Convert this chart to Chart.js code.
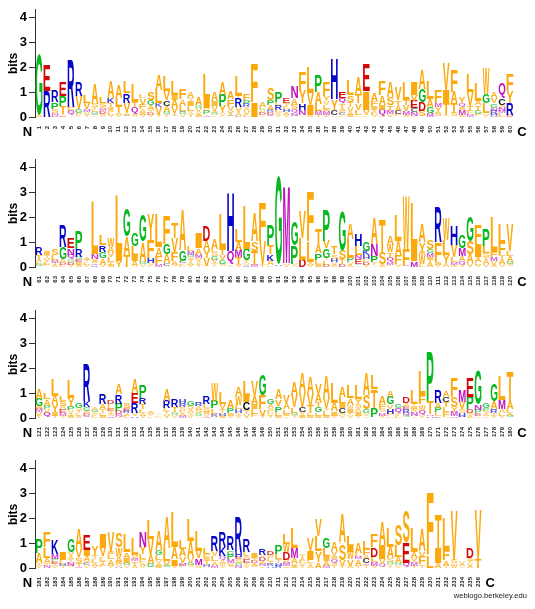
<!DOCTYPE html>
<html>
<head>
<meta charset="utf-8">
<title>Sequence logo</title>
<script src="https://cdn.jsdelivr.net/npm/chart.js@4"></script>
<style>
  html, body { margin: 0; padding: 0; background: #fff; }
  canvas { position: absolute; left: 0; }
  #credit { position: absolute; right: 8px; top: 591px; font: 7.6px "Liberation Sans", sans-serif; color: #222; }
</style>
</head>
<body>
<canvas id="row1" width="535" height="150" style="top:0"></canvas>
<canvas id="row2" width="535" height="150" style="top:150px"></canvas>
<canvas id="row3" width="535" height="150" style="top:301px"></canvas>
<canvas id="row4" width="535" height="150" style="top:451px"></canvas>
<div id="credit">weblogo.berkeley.edu</div>
<script>
// each stack reads bottom to top: letter + height in bits
const yTicks = [0, 1, 2, 3, 4];

const row1Labels = [1,2,3,4,5,6,7,8,9,10,11,12,13,14,15,16,17,18,19,20,21,22,23,24,25,26,27,28,29,30,31,32,33,34,35,36,37,38,39,40,41,42,43,44,45,46,47,48,49,50,51,52,53,54,55,56,57,58,59,60];
const row1Stacks = [
  'A.1 G2.45','R1.05 E1.05','D.06 N.08 S.18 P.28 R.45','D.08 S.05 T.3 P.42 E.55','Y.07 Q.17 F.15 R1.9','Y.05 F.1 G.17 V.53 R.55','Y.1 V.12 M.1 V.26 L.32','V.06 C.05 G.1 L.08 T.1 S.15 A.85','V.05 A.08 D.1 M.08 T.08 S.18 L.25','V.1 L.1 A.1 I.1 T.15 K.2 A.65',
  'V.1 A.1 T.25 L.32 A.5','C.05 A.15 V.38 R.37 L.47','V.05 A.1 Q.25 T.2 L.7','V.1 I.1 A.1 F.2 V.25 L.15','V.1 D.08 T.1 A.2 G.22 S.33','T.1 V.3 K.15 L.55 A.6','T.1 G.1 A.25 C.23 V.37 L.6','G.05 T.1 V.25 A.3 I.2 L.55','V.1 G.1 C.05 L.2 A.25 F.4','Y.15 V.1 L.2 I.2 T.1 A.25',
  'I.1 Y.1 V.15 G.12 A.33','M.05 T.05 P.15 V.1 I.4 L.95','L.08 G.08 A.1 V.2 I.2 A.35','L.05 V.1 Y.3 P.45 A.5','C.05 Y.2 V.2 F.28 A.33','D.05 A.15 V.2 R.38 T.08 L.8','L.1 V.15 A.15 R.13 P.15 F.25','I.6 F1.55','T.08 D.1 V.1 G.06 L.08 A.2','Q.1 D.1 R.08 A.2 P.2 S.45',
  'V.1 T.1 L.1 R.2 L.1 P.43','V.1 A.1 H.12 L.1 T.13 E.2','G.05 N.1 Q.15 S.2 A.25 N.45','V.08 N.22 H.25 Y.5 F.77','A.1 I.4 V.45 L1.05','Y.1 M.13 L.3 A.45 P.65','V.1 M.14 I.1 L.15 V.15 Y.2 F.55','A.08 C.2 Y.43 H1.6','L.08 C.1 V.08 A.12 T.17 Q.22 E.27','I.1 A.12 V.18 T.2 S.27 L.6',
  'V.08 L.22 V.25 T.35 A.75','A.08 V.22 I.75 E1.1','V.1 L.08 A.1 I.15 F.22 A.3','I.05 Q.25 I.2 A.38 F.57','V.12 M.14 T.22 S.32 A.6','F.1 C.15 A.2 T.22 V.5','A.1 M.15 V.25 T.2 L.7','T.05 N.15 C.15 E.28 V.27 I.5','S.26 D.35 G.5 A.8','A.02 M.14 G.25 A.32 L.7',
  'S.2 Y.2 M.15 F.5','S.07 T.46 I.55 V1.1','S.15 T.4 A.45 F.9','A.1 M.2 I.1 Q.15 Y.25','M.1 F.14 T.2 V.56 L.72','F.1 G.15 T.22 A.18 L.7','V.1 A.05 L.42 G.35 W1.05','M.05 H.08 R.13 N.12 G.17 V.22 A.25','L.15 M.1 N.15 S.1 C.25 Q.6','D.1 R.47 Y.47 F.65'
];

const row2Labels = [61,62,63,64,65,66,67,68,69,70,71,72,73,74,75,76,77,78,79,80,81,82,83,84,85,86,87,88,89,90,91,92,93,94,95,96,97,98,99,100,101,102,103,104,105,106,107,108,109,110,111,112,113,114,115,116,117,118,119,120];
const row2Stacks = [
  'G.1 L.1 A.1 T.18 R.3','F.1 L.12 V.15 T.1 I.15','A.1 T.08 M.1 L.2 S.25','L.1 D.08 A.15 G.47 R.88','V.1 D.12 G.08 Q.2 N.25 E.42','A.1 I.1 E.12 G.1 R.3 P.75','V.1 L.1 T.1 A.12','R.08 Q.07 I.08 V.1 N.2 L2.12','V.1 A.25 G.25 R.27 L.42','I.1 T.1 L.2 V.2 A.2 W.35',
  'Y.25 I.35 L2.27','T.5 A.75 G1.1','V.05 A.2 I.25 L.35 G.5','V.1 G.12 A.8 G1.08','L.05 V.1 H.2 F.75 Y1.05','M.12 F.3 A.38 L1.35','V.05 C.1 A.35 G.43 F1.15','S.1 A.15 F.35 V.55 T.6','L.1 T.05 C.1 G.42 A1.6','V.1 A.1 T.1 S.1 G.1 M.15 L.2',
  'T.1 Y.1 V.15 M.15 A.25 I.6','S.05 V.3 Y.32 A.38 D.6','A.05 T.1 V.15 G.15 S.15 L.12 A.4','S.1 G.17 V.2 T.25 L1.4','T.05 W.05 Q.55 H2.35','V.1 T.3 M.3 A.3 L.5','R.05 V.1 T.12 G.45 L1.75','M.1 T.55 S.38 A1.12','T.12 V.9 F1.55','L.08 A.18 K.25 T.35 P.85',
  'A.03 H.07 G3.55','V.1 A.05 M3.1','A.05 V.08 P.73 G.93','D.3 L.85 V1.1','V.1 A.1 L.8 F2','I.12 L.17 P.27 A.3 T.65','D.1 L.17 T.1 G.38 V.3 P1.25','A.1 V.1 H.14 S.18 T.3','D.12 T.2 S.35 G1.6','A.1 V.1 P.18 L.75 A.6',
  'Y.08 G.05 E.18 N.17 L.37 H.45','V.1 D.1 L.12 H.15 K.18 G.35','V.08 T.1 P.27 N.48 A1.05','A.12 S.45 T1.35','F.08 M.12 Q.17 T.22 W.3 A.35','V.1 F.35 A.6 L1.05','Q.05 F.65 W2.15','M.25 I.6 L1.75','L.12 W.4 I.1 Y.38 A.75','A.2 T.1 I.12 M.15 G.15 S.35',
  'V.1 I.1 F.8 R1.4','A.15 Y.32 L.6 W.85','A.1 M.1 L.2 V.5 H.8','V.1 Q.15 A.2 M.3 G.5','V.15 A.35 S.55 G1','V.1 L.1 A.2 I.5 F.8','V.12 A.18 T.1 S.15 L.3 P.65','A.1 V.15 M.15 F.22 L1.4','V.12 A.2 T.15 F.5 L.75','S.1 G.1 A.25 L.2 V1.1'
];

const row3Labels = [121,122,123,124,125,126,127,128,129,130,131,132,133,134,135,136,137,138,139,140,141,142,143,144,145,146,147,148,149,150,151,152,153,154,155,156,157,158,159,160,161,162,163,164,165,166,167,168,169,170,171,172,173,174,175,176,177,178,179,180];
const row3Stacks = [
  'Y.1 V.15 M.13 I.1 G.3 A.4','Q.22 V.15 P.13 A.25 L.25','T.1 I.15 Y.3 A.35 L.65','V.1 M.1 E.15 A.15 S.2 L.22','I.1 T.1 V.12 P.17 Y.3 L.7','A.1 L.1 T.1 V.1 G.23','Q.1 D.1 A.1 G.15 K.25 R1.5','L.1 V.08 T.08 G.08 A.1','I.1 L.1 T.15 A.2 R.4','M.08 S.1 T.1 E.1 L.18 D.17',
  'T.05 N.1 D.13 P.3 R.37 A.42','L.1 A.1 R.1 E.1 S.22','H.08 V.13 R.4 E.4 A.58','V.1 A.1 L.15 T.2 R.25 P.5','L.08 V.08 A.1 T.07','A.06 L.06 V.06','V.15 T.12 L.13 R.3 A.45','V.1 G.1 L.05 T.2 R.3','M.1 A.1 L.1 S.15 R.15 H.17','V.1 T.1 A.15 S.15 G.2',
  'V.08 G.1 S.15 A.15 R.17','M.05 V.1 I.1 S.15 L.15 R.3','V.05 R.08 Q.05 L.2 P.32 W.7','I.1 H.1 T.15 V.22 L.45','V.1 I.1 P.2 A.3','V.1 Y.12 H.13 L.18 W.36 A.38','V.17 T.15 C.31 I.27 L.6','F.15 L.2 I.2 A.32 V.63','Y.1 V.27 F.55 G.85','Y.1 V.1 L.1 S.1 A.17 G.2',
  'I.1 L.15 P.23 V.27 A.4','T.08 I.1 L.17 A.25 V.3','T.1 G.12 L.22 V.5 A.5','I.12 V.13 C.2 V.6 A.8','I.1 L.1 T.3 V.45 A.65','I.1 L.12 G.23 T.2 A.33 V.4','I.1 L.2 T.1 V.42 A.9','V.1 I.17 A.35 L.8','V.1 S.1 C.2 I.2 L.25 A.42','V.12 T.1 I.15 W.15 A.28 L.5',
  'V.1 I.15 A.15 S.15 Y.2 L.55','T.07 V.12 G.15 S.6 A.87','P.4 T.75 L.57','V.1 M.12 S.13 F.2 A.3','L.08 F.1 H.2 V.17 G.3 A.25','L.1 T.1 Q.2 G.15','G.1 Q.1 R.15 E.1 A.15 D.25','A.08 N.15 W.15 I.1 T.1 L.55','V.12 Q.17 W.2 I.05 F.38 L1','H.08 N.07 T.5 P2',
  'E.07 L.15 P.2 A.2 R.5','V.05 F.18 L.2 T.22 C.2 A.25','N.07 M.18 Y.18 S.4 F.8','Q.05 H.15 S.15 V.3 M.45','A.1 S.1 D.15 P.5 E.78','A.08 E.1 P.15 N.22 G1.35','T.08 A.1 S.12 P.1 G.2','V.1 T.1 R.15 A.33 G.7','V.1 L.1 A.15 M.37 L.98','G.1 A.1 L.17 A.3 T1.2'
];

const row4Labels = [181,182,183,184,185,186,187,188,189,190,191,192,193,194,195,196,197,198,199,200,201,202,203,204,205,206,207,208,209,210,211,212,213,214,215,216,217,218,219,220,221,222,223,224,225,226,227,228,229,230,231,232,233,234,235,236,'','','',''];
const row4Stacks = [
  'V.1 T.1 A.4 P.55','N.1 T.12 A.2 L.4 F.6','V.1 T.08 E.1 P.1 M.2 K.55','T.1 H.08 L.15 I.3','S.1 N.15 T.1 A.12 V.15 G.5','M.05 T.15 S.2 A.05 V.3 A.85','V.1 C.08 T.1 A.2 I.25 E.6','V.1 A.1 L.17 T.15 Y.38','F.12 T.15 L.15 A.05 V.35 I.55','T.1 A.25 L.2 I.1 V.8',
  'H.05 V.1 I.1 A.2 W.37 S.6','V.1 G.12 I.2 A.23 L.7','A.1 T.17 M.1 V.15 L.65','V.1 A.1 F.15 L.2 Y.28 N.6','G.17 A.35 V.65 L.75','I.1 A.1 V.12 L.2 G.2 A.78','G.1 V.2 L.5 A1.25','V.1 I.28 A.45 L1.4','F.1 M.12 V.25 A.3 L.36','S.1 G.12 V.18 A.7 L.85',
  'W.12 M.28 V.28 L.8','A.05 H.08 T.18 I.1 F.15 L.25','M.1 A.17 L.2 V.2 R.6','V.1 T.08 A.15 Q.15 K.38 R.62','S.1 V.1 M.14 P.2 G.18 R.55','N.1 G.1 S.15 E.1 H.2 R1.4','V.1 T.1 E.15 A.15 L.13 R.53','S.1 A.1 D.1 T.12 I.2','T.07 N.1 A.12 D.14 V.1 R.25','H.08 R.1 T.12 L.1 W.13 D.17',
  'R.1 H.1 T.15 L.2 P.35','I.07 M.13 V.13 D.3 W.33 L.4','I.1 V.12 A.2 M.4 L.83','T.1 V.1 L.1 A.12 Y.15','A.1 T.1 L.12 I.35 V.5','A.25 Y.42 L.6 V.65','M.1 A.2 I.2 L.28 G.42','T.1 S.12 Q.15 I.1 V.2 A.35','Y.1 V.23 S.65 L.05 A1.15','A.1 V.25 W.28 I.27 L.4',
  'T.1 A.25 M.12 L.15 A.4','T.1 Q.08 C.2 A.15 F.25 L.3','V.1 M.15 L.2 D.38 F.5','S.05 Q.12 V.2 I.55 A.95','T.05 V.1 G.1 S.15 A.45 L.75','V.1 G.1 A.25 L.45 S.85','T.05 Q.17 E.82 S1.25','T.1 M.13 V.18 A.25 L.96','T.1 L.05 F.3 V.22 A.9','L.5 F2.5',
  'A.2 I.6 T1.35','Y.1 A.2 F.4 L1.35','W.18 S.15 V1.98','T.08 A.1 V.08','A.1 V.1 T.1 S.12 D.4','T.37 V1.98'
];

const ORANGE = '#fba90c', GREEN = '#08b820', BLUE = '#0606c8', RED = '#d40808', PURPLE = '#c010c0';
const letterColors = {
  A: ORANGE, V: ORANGE, L: ORANGE, I: ORANGE, F: ORANGE, W: ORANGE, Y: ORANGE, T: ORANGE, S: ORANGE,
  G: GREEN, P: GREEN, R: BLUE, K: BLUE, H: BLUE, D: RED, E: RED, N: PURPLE, M: PURPLE, Q: PURPLE, C: '#000'
};

// stacks -> one bar dataset per layer, the letters ride along on the dataset
function toDatasets(stacks) {
  const parsed = stacks.map(s => s.split(' ').map(p => [p[0], parseFloat(p.slice(1))]));
  const depth = Math.max(...parsed.map(p => p.length));
  const sets = [];
  for (let k = 0; k < depth; k++) {
    sets.push({
      letters: parsed.map(p => p[k] ? p[k][0] : null),
      data: parsed.map(p => p[k] ? p[k][1] : null),
      backgroundColor: 'transparent',
      barPercentage: 1,
      categoryPercentage: 1,
      stack: 'logo'
    });
  }
  return sets;
}

const logoLetters = {
  id: 'logoLetters',
  afterDatasetsDraw(chart) {
    const ctx = chart.ctx;
    chart.data.datasets.forEach((ds, k) => {
      chart.getDatasetMeta(k).data.forEach((bar, i) => {
        const letter = ds.letters[i];
        if (!letter) return;
        ctx.save();
        ctx.font = 'bold 100px "Liberation Sans"';
        ctx.textBaseline = 'alphabetic';
        ctx.textAlign = 'left';
        const m = ctx.measureText(letter);
        const gw = m.actualBoundingBoxLeft + m.actualBoundingBoxRight;
        const gh = m.actualBoundingBoxAscent + m.actualBoundingBoxDescent;
        const w = bar.width - 1.2;
        ctx.translate(bar.x - w / 2, bar.y);
        ctx.scale(w / gw, (bar.base - bar.y) / gh);
        ctx.fillStyle = letterColors[letter];
        // tiny letters wash out in the original
        ctx.globalAlpha = Math.min(1, 0.3 + 2.5 * ds.data[i]);
        ctx.fillText(letter, m.actualBoundingBoxLeft, m.actualBoundingBoxAscent);
        ctx.restore();
      });
    });
    // N / C end markers
    const x = chart.scales.x, base = chart.scales.y.bottom;
    const last = chart.data.labels.filter(l => l !== '').length - 1;
    ctx.save();
    ctx.font = 'bold 13px "Liberation Sans"';
    ctx.fillStyle = '#000';
    ctx.textAlign = 'center';
    ctx.textBaseline = 'middle';
    ctx.fillText('N', 27.5, base + 15);
    ctx.fillText('C', x.getPixelForValue(last) + 12, base + 15);
    ctx.restore();
  }
};

function drawRow(id, labels, stacks) {
  new Chart(document.getElementById(id), {
    type: 'bar',
    data: { labels: labels, datasets: toDatasets(stacks) },
    plugins: [logoLetters],
    options: {
      responsive: false,
      animation: false,
      layout: { padding: { top: 8, right: 21, left: 0, bottom: 0 } },
      plugins: { legend: { display: false }, tooltip: { enabled: false } },
      scales: {
        x: {
          stacked: true,
          offset: true,
          afterFit: s => { s.height = 33; },
          grid: { display: false },
          border: { display: false },
          ticks: {
            autoSkip: false, minRotation: 90, maxRotation: 90, padding: 1,
            color: '#222', font: { family: 'Liberation Sans', size: 6, weight: 'bold' }
          }
        },
        y: {
          stacked: true,
          min: 0,
          max: 4.32,
          afterFit: s => { s.width = 35; },
          afterBuildTicks: s => { s.ticks = yTicks.map(v => ({ value: v })); },
          title: {
            display: true, text: 'bits', color: '#000', padding: { top: 6, bottom: 0 },
            font: { family: 'Liberation Sans', size: 12, weight: 'bold' }
          },
          grid: { drawOnChartArea: false, color: '#333', tickLength: 6 },
          border: { color: '#333', width: 1 },
          ticks: {
            padding: 2, color: '#000',
            font: { family: 'Liberation Sans', size: 13, weight: 'bold' }
          }
        }
      }
    }
  });
}

drawRow('row1', row1Labels, row1Stacks);
drawRow('row2', row2Labels, row2Stacks);
drawRow('row3', row3Labels, row3Stacks);
drawRow('row4', row4Labels, row4Stacks);
</script>
</body>
</html>
